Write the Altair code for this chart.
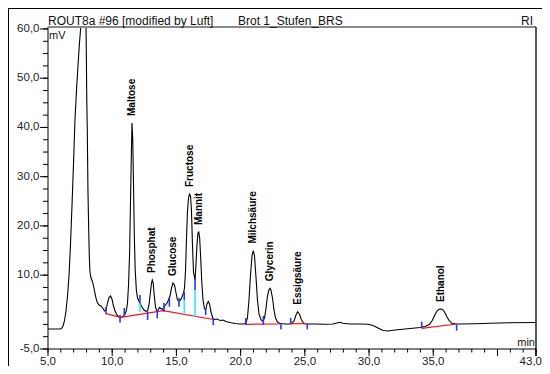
import altair as alt
import pandas as pd

# ---- chromatogram trace: retention time (min) and RI signal (mV) ----
time_min = [5.00, 5.93, 6.05, 6.17, 6.28, 6.40, 6.52, 6.64, 6.75, 6.87,
            6.99, 7.10, 7.22, 7.34, 7.45, 7.55, 7.65, 7.76, 7.84, 7.90,
            7.96, 7.99, 8.02, 8.06, 8.11, 8.17, 8.22, 8.27, 8.35, 8.47,
            8.58, 8.70, 8.82, 8.97, 9.13, 9.28, 9.40, 9.52, 9.63, 9.75,
            9.87, 9.98, 10.10, 10.22, 10.37, 10.53, 10.68, 10.84, 11.00, 11.11,
            11.19, 11.27, 11.35, 11.42, 11.49, 11.54, 11.60, 11.66, 11.72, 11.79,
            11.88, 11.97, 12.09, 12.20, 12.32, 12.48, 12.63, 12.75, 12.86, 12.98,
            13.06, 13.12, 13.19, 13.27, 13.37, 13.46, 13.57, 13.68, 13.80, 13.92,
            14.03, 14.15, 14.27, 14.38, 14.50, 14.62, 14.73, 14.85, 14.97, 15.08,
            15.20, 15.32, 15.43, 15.55, 15.63, 15.71, 15.78, 15.86, 15.94, 16.02,
            16.10, 16.17, 16.25, 16.33, 16.45, 16.52, 16.60, 16.68, 16.74, 16.81,
            16.89, 16.98, 17.07, 17.19, 17.30, 17.38, 17.48, 17.58, 17.69, 17.85,
            18.00, 18.16, 18.32, 18.47, 18.63, 18.86, 19.17, 19.56, 19.95, 20.26,
            20.41, 20.53, 20.65, 20.77, 20.89, 20.99, 21.08, 21.20, 21.31, 21.43,
            21.59, 21.72, 21.86, 21.98, 22.09, 22.21, 22.29, 22.36, 22.48, 22.60,
            22.72, 22.87, 23.07, 23.46, 23.92, 24.16, 24.31, 24.44, 24.58, 24.74,
            24.93, 25.17, 25.79, 26.57, 27.19, 27.50, 27.74, 27.97, 28.52, 29.30,
            29.92, 30.31, 30.70, 31.09, 31.48, 31.87, 32.41, 33.19, 33.97, 34.36,
            34.69, 34.92, 35.12, 35.29, 35.45, 35.58, 35.72, 35.88, 36.07, 36.26,
            36.46, 36.77, 37.08, 38.25, 39.42, 40.97, 43.00]
signal_mv = [-0.94, -0.94, -0.84, -0.33, 0.69, 2.72, 5.76, 10.03, 16.12, 24.25,
             32.98, 41.51, 47.60, 52.68, 57.15, 60.40, 62.83, 64.25, 65.47, 63.85,
             60.40, 53.69, 45.57, 39.48, 27.29, 19.17, 13.48, 10.64, 9.42, 8.61,
             7.39, 5.76, 4.55, 3.94, 3.73, 3.23, 2.72, 2.92, 4.34, 5.46,
             5.76, 5.15, 3.73, 2.72, 1.91, 1.50, 1.40, 1.60, 2.11, 2.92,
             4.34, 8.00, 14.09, 24.25, 34.40, 40.90, 37.45, 28.31, 18.15, 11.04,
             6.98, 5.36, 4.65, 4.14, 3.53, 2.92, 2.62, 2.72, 3.94, 6.58,
             8.40, 9.01, 8.40, 5.97, 3.53, 2.72, 2.92, 3.43, 3.23, 3.02,
             3.53, 3.94, 4.34, 4.95, 5.76, 7.39, 8.40, 8.00, 6.37, 4.95,
             4.75, 4.95, 5.56, 6.37, 7.39, 11.04, 17.14, 22.82, 25.67, 26.48,
             26.07, 23.23, 16.12, 10.64, 9.01, 12.06, 16.12, 18.56, 18.76, 17.54,
             13.48, 8.40, 4.95, 3.12, 3.12, 4.14, 4.65, 4.14, 2.51, 1.19,
             0.99, 1.09, 0.89, 0.79, 0.89, 0.59, 0.38, 0.18, 0.08, 0.08,
             0.28, 1.30, 4.95, 10.03, 14.09, 15.00, 13.89, 9.42, 4.95, 2.11,
             0.89, 0.69, 1.30, 3.33, 5.76, 7.08, 7.33, 6.98, 5.36, 2.92,
             1.30, 0.48, 0.18, 0.08, 0.08, 0.69, 1.91, 2.58, 2.11, 0.89,
             0.18, 0.08, 0.08, 0.04, 0.08, 0.28, 0.42, 0.24, 0.08, 0.08,
             0.02, -0.23, -0.74, -1.24, -1.34, -1.20, -1.04, -0.84, -0.63, -0.43,
             -0.02, 0.79, 1.91, 2.72, 3.06, 3.12, 3.02, 2.51, 1.50, 0.69,
             0.22, 0.08, 0.08, 0.14, 0.24, 0.32, 0.38]
assert len(time_min) == len(signal_mv)

# ---- identified peaks ----
peak_names = ["Maltose", "Phosphat", "Glucose", "Fructose", "Mannit",
              "Milchsäure", "Glycerin", "Essigsäure", "Ethanol"]
peak_times = [11.54, 13.12, 14.73, 16.02, 16.74, 20.99, 22.29, 24.44, 35.58]
peak_heights = [40.90, 9.01, 8.40, 26.48, 18.76, 15.00, 7.33, 2.58, 3.12]

# ---- integration baselines (red) ----
base_segment = [1, 1, 1, 1, 2, 2, 3, 3, 4, 4]
base_time = [9.44, 10.66, 13.98, 17.87, 20.40, 23.07, 23.92, 25.19, 34.10, 36.82]
base_mv = [2.25, 1.44, 2.78, 0.99, 0.02, 0.08, 0.14, 0.14, -0.80, 0.08]

# ---- peak start/end markers (blue) ----
marker_time = [9.52, 10.61, 10.94, 12.16, 12.76, 13.51, 14.03, 14.45, 15.20,
               15.61, 16.45, 17.28, 17.87, 20.40, 21.77, 23.14, 23.90, 25.19,
               34.10, 36.82]
marker_top = [3.59, 1.91, 3.33, 5.97, 2.58, 2.92, 4.34, 5.36, 5.36,
              6.64, 9.42, 3.33, 1.30, 1.30, 1.70, 0.02, 1.30, 0.02,
              0.54, -0.13]
marker_bottom = [2.25, 0.34, 1.76, 4.28, 0.89, 1.23, 2.58, 3.59, 3.59,
                 4.95, 6.98, 1.91, -0.13, -0.13, -0.13, -1.00, 0.22, -1.00,
                 -0.80, -1.28]

# ---- perpendicular drops (cyan) ----
drop_time = [12.16, 15.61, 16.45]
drop_top = [4.28, 4.95, 6.98]
drop_bottom = [2.58, 2.25, 1.56]

# ---- axis ticks and tick labels ----
x_major = [5, 10, 15, 20, 25, 30, 35, 40, 43]
x_label_values = [5, 10, 15, 20, 25, 30, 35]
x_label_text = ["5,0", "10,0", "15,0", "20,0", "25,0", "30,0", "35,0"]
x_end_value = [43]
x_end_text = ["43,0"]
x_minor = [5, 6, 7, 8, 9, 10, 11, 12, 13, 14, 15, 16, 17, 18, 19, 20, 21, 22,
           23, 24, 25, 26, 27, 28, 29, 30, 31, 32, 33, 34, 35, 36, 37, 38, 39,
           40, 41, 42, 43]
y_label_values = [-5, 10, 20, 30, 40, 50, 60]
y_label_text = ["-5,0", "10,0", "20,0", "30,0", "40,0", "50,0", "60,0"]
y_minor = [-5, -2.5, 0, 2.5, 5, 7.5, 10, 12.5, 15, 17.5, 20, 22.5, 25, 27.5,
           30, 32.5, 35, 37.5, 40, 42.5, 45, 47.5, 50, 52.5, 55, 57.5, 60]

FONT = "Liberation Sans"
W, H = 488, 322

xs = alt.Scale(domain=[5, 43], nice=False, zero=False)
ys = alt.Scale(domain=[-5, 60.4], nice=False, zero=False)


def X(field):
    return alt.X(field, type="quantitative", scale=xs, axis=None)


def Y(field):
    return alt.Y(field, type="quantitative", scale=ys, axis=None)


trace_df = pd.DataFrame({"t": time_min, "v": signal_mv})
peaks_df = pd.DataFrame({"name": peak_names, "t": peak_times, "v": peak_heights})
base_df = pd.DataFrame({"seg": base_segment, "t": base_time, "v": base_mv})
marker_df = pd.DataFrame({"t": marker_time, "v1": marker_top, "v2": marker_bottom})
drop_df = pd.DataFrame({"t": drop_time, "v1": drop_top, "v2": drop_bottom})
xlab_df = pd.DataFrame({"t": x_label_values, "txt": x_label_text})
xend_df = pd.DataFrame({"t": x_end_value, "txt": x_end_text})
ylab_df = pd.DataFrame({"v": y_label_values, "txt": y_label_text})

one = pd.DataFrame({"k": [0]})

panel = alt.Chart(one).mark_rect(fill="white", stroke="black", strokeWidth=2).encode(
    x=alt.value(-40), x2=alt.value(498), y=alt.value(-19), y2=alt.value(352))

trace = alt.Chart(trace_df).mark_line(color="black", strokeWidth=1.1, clip=True).encode(
    x=X("t"), y=Y("v"))

baseline = alt.Chart(base_df).mark_line(color="#FF1010", strokeWidth=1.2).encode(
    x=X("t"), y=Y("v"), detail="seg:N")

drops = alt.Chart(drop_df).mark_rule(color="#30E8F0", strokeWidth=1.6).encode(
    x=X("t"), y=Y("v1"), y2="v2:Q")

markers = alt.Chart(marker_df).mark_rule(color="#2438F5", strokeWidth=1.6).encode(
    x=X("t"), y=Y("v1"), y2="v2:Q")

labels = alt.Chart(peaks_df).mark_text(angle=270, align="left", baseline="middle",
                                       dx=7, font=FONT, fontSize=10,
                                       fontWeight="bold", color="black").encode(
    x=X("t"), y=Y("v"), text="name:N")

# axes drawn as marks on the shared scales
x_domain = alt.Chart(one).mark_rule(color="black", strokeWidth=1).encode(
    x=alt.value(0), x2=alt.value(W), y=alt.value(H))
y_domain = alt.Chart(one).mark_rule(color="black", strokeWidth=1).encode(
    x=alt.value(0), y=alt.value(0), y2=alt.value(H))
x_minor_ticks = alt.Chart(pd.DataFrame({"t": x_minor})).mark_rule(color="black", strokeWidth=1).encode(
    x=X("t"), y=alt.value(H), y2=alt.value(H + 3.5))
x_major_ticks = alt.Chart(pd.DataFrame({"t": x_major})).mark_rule(color="black", strokeWidth=1).encode(
    x=X("t"), y=alt.value(H), y2=alt.value(H + 7))
y_minor_ticks = alt.Chart(pd.DataFrame({"v": y_minor})).mark_rule(color="black", strokeWidth=1).encode(
    y=Y("v"), x=alt.value(-5), x2=alt.value(0))
y_major_ticks = alt.Chart(pd.DataFrame({"v": y_label_values})).mark_rule(color="black", strokeWidth=1).encode(
    y=Y("v"), x=alt.value(-8), x2=alt.value(0))
x_labels = alt.Chart(xlab_df).mark_text(font=FONT, fontSize=11.5, color="#222",
                                        align="center", baseline="middle").encode(
    x=X("t"), y=alt.value(H + 13), text="txt:N")
x_end_label = alt.Chart(xend_df).mark_text(font=FONT, fontSize=11.5, color="#222",
                                           align="right", baseline="middle", dx=6).encode(
    x=X("t"), y=alt.value(H + 13), text="txt:N")
y_labels = alt.Chart(ylab_df).mark_text(font=FONT, fontSize=11.5, color="#222",
                                        align="right", baseline="middle").encode(
    y=Y("v"), x=alt.value(-8.5), text="txt:N")

top_line = alt.Chart(one).mark_rule(color="#8a8a8a", strokeWidth=2).encode(
    x=alt.value(0), x2=alt.value(W), y=alt.value(0))
right_line = alt.Chart(one).mark_rule(color="black", strokeWidth=1.3).encode(
    x=alt.value(W), y=alt.value(0), y2=alt.value(H + 7))


def note(text, x, y, align="left", size=12):
    return alt.Chart(one).mark_text(text=text, align=align, baseline="alphabetic",
                                    font=FONT, fontSize=size, color="#111").encode(
        x=alt.value(x), y=alt.value(y))


texts = [
    note("ROUT8a #96 [modified by Luft]", 0, -2),
    note("Brot 1_Stufen_BRS", 190, -2),
    note("RI", 485, -2, align="right"),
    note("mV", 1, 11.5, size=11),
    note("min", 487, 319, align="right", size=11),
]

chart = alt.layer(
    panel, trace, baseline, drops, markers, labels,
    x_domain, y_domain, x_minor_ticks, x_major_ticks, y_minor_ticks, y_major_ticks,
    x_labels, x_end_label, y_labels, top_line, right_line, *texts
).properties(
    width=W, height=H,
    autosize=alt.AutoSizeParams(type="none"),
    padding={"left": 40, "top": 19, "right": 6, "bottom": 17},
    background="white",
).configure_view(stroke=None)

chart.save("out.html", embed_options={"renderer": "svg", "actions": False})
